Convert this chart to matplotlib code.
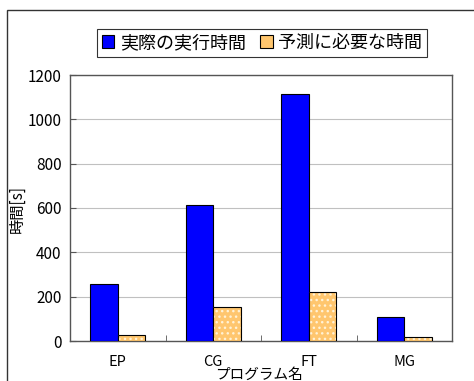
import numpy as np
import matplotlib
matplotlib.use("Agg")
import matplotlib.pyplot as plt
from matplotlib.patches import Rectangle, Patch

plt.rcParams['font.family'] = ['Noto Sans CJK JP', 'DejaVu Sans']

# data
programs = ["EP", "CG", "FT", "MG"]
actual_time = [258, 613, 1115, 110]
predict_time = [26, 152, 221, 17]
series_names = ["実際の実行時間", "予測に必要な時間"]

fig = plt.figure(figsize=(4.74, 3.81), dpi=100)
fig.patch.set_facecolor("white")

# outer chart frame (right and bottom run off the picture)
fig.patches.append(Rectangle((7 / 474, -0.05), 1.0, 1 - 10 / 381 + 0.05,
                             transform=fig.transFigure, fill=False,
                             edgecolor="#333333", linewidth=1.0))

ax = fig.add_axes([70 / 474, 40 / 381, 382 / 474, 266 / 381])

x = np.arange(len(programs))
w = 1 / 3.5
ax.bar(x - w / 2, actual_time, w, color="#0000FF", edgecolor="black",
       linewidth=0.8, zorder=3)
ax.bar(x + w / 2, predict_time, w, color="#FFC66E", edgecolor="#FFF2D6",
       hatch="...", linewidth=0, zorder=3)
ax.bar(x + w / 2, predict_time, w, fill=False, edgecolor="black",
       linewidth=0.8, zorder=4)

ax.set_xlim(-0.5, len(programs) - 0.5)
ax.set_ylim(0, 1200)
ax.set_yticks(range(0, 1201, 200))
ax.yaxis.grid(True, color="#C0C0C0", linewidth=0.8, zorder=0)
ax.set_axisbelow(True)

ax.set_xticks(x)
ax.set_xticklabels(programs)
ax.set_xticks(np.arange(0.5, len(programs) - 0.5, 1), minor=True)
ax.tick_params(axis="x", which="major", length=0, pad=10, labelsize=10.5)
ax.tick_params(axis="x", which="minor", direction="in", length=4,
               color="#555555")
ax.tick_params(axis="y", direction="in", length=4, labelsize=11, pad=6,
               color="#555555")
for s in ax.spines.values():
    s.set_color("#555555")
    s.set_linewidth(1.0)

fig.text(259 / 474, 1 - 375 / 381, "プログラム名", ha="center", va="center",
         fontsize=10.5)
fig.text(17 / 474, 1 - 209 / 381, "時間[s]", ha="center", va="center",
         rotation=90, fontsize=11)

handles = [Patch(facecolor="#0000FF", edgecolor="black", linewidth=0.8),
           Patch(facecolor="#FFC66E", edgecolor="black", linewidth=0.8)]
leg = fig.legend(handles, series_names, loc="center",
                 bbox_to_anchor=(262 / 474, 1 - 43 / 381), ncol=2,
                 fontsize=13, frameon=True, fancybox=False,
                 handlelength=0.7, handleheight=0.7, handletextpad=0.3,
                 columnspacing=0.8, borderpad=0.25, borderaxespad=0)
leg.get_frame().set_edgecolor("black")
leg.get_frame().set_linewidth(0.8)

fig.savefig("out.png", dpi=100)
